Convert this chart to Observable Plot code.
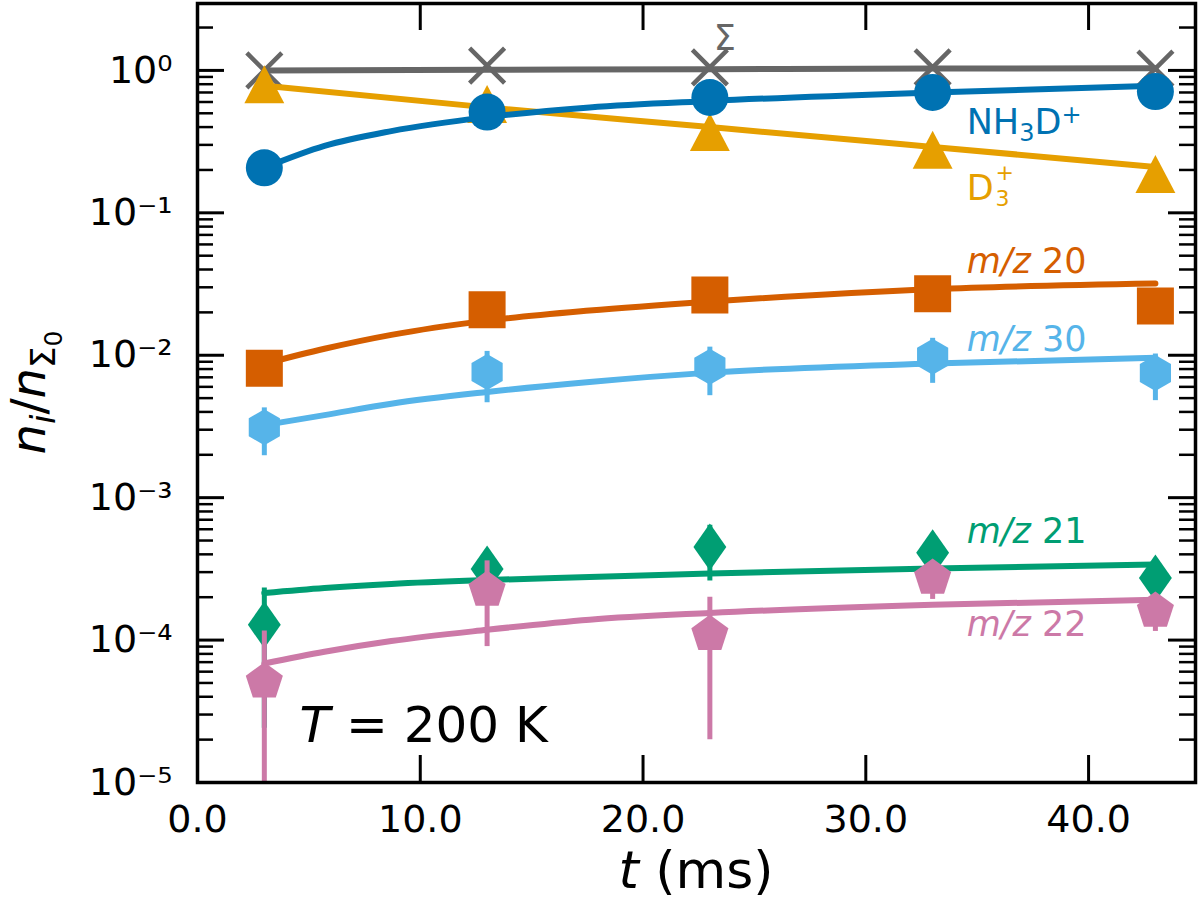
<!DOCTYPE html>
<html><head><meta charset="utf-8">
<script src="https://cdn.jsdelivr.net/npm/d3@7"></script>
<script src="https://cdn.jsdelivr.net/npm/@observablehq/plot@0.6"></script>
<style>body{margin:0;background:#fff} svg{display:block}</style>
</head><body><div id="chart"></div>
<script>
// ---- data ----
const T = [3, 13, 23, 33, 43];
const sigmaPts = [1.00, 1.08, 1.05, 1.05, 1.03];
const d3pPts   = [0.80, 0.58, 0.37, 0.277, 0.187];
const nh3dPts  = [0.207, 0.51, 0.645, 0.70, 0.71];
const mz20Pts  = [0.0081, 0.0209, 0.0265, 0.027, 0.0222];
const mz30Pts  = [0.00312, 0.00764, 0.0083, 0.00975, 0.0075];
const mz30Err  = [0.00115, 0.0030, 0.0031, 0.0034, 0.0027];
const mz21Pts  = [1.28e-4, 3.15e-4, 4.5e-4, 4.1e-4, 2.73e-4];
const mz21Err  = [1.04e-4, 0.6e-4, 1.9e-4, 0.6e-4, 0.5e-4];
const mz22Pts  = [5.1e-5, 2.25e-4, 1.1e-4, 2.73e-4, 1.6e-4];
const mz22Err  = [6.5e-5, 1.35e-4, 0.9e-4, 0.8e-4, 0.45e-4];

// fitted curves
const sigmaFit = [1.00, 1.01, 1.02, 1.03, 1.035];          // at T
const d3pFit   = [0.78, 0.55, 0.40, 0.29, 0.21];           // at T
const fitT     = [3, 5.7, 8.7, 13, 17.6, 23, 33, 43];
const nh3dFit  = [0.207, 0.295, 0.375, 0.47, 0.55, 0.61, 0.70, 0.78];
const mz20Fit  = [0.0087, 0.0111, 0.0139, 0.0175, 0.0206, 0.0238, 0.0291, 0.0319];
const mz30Fit  = [0.00323, 0.0038, 0.00457, 0.00552, 0.00649, 0.00755, 0.00874, 0.0096];
const mz21Fit  = [2.14e-4, 2.32e-4, 2.48e-4, 2.64e-4, 2.77e-4, 2.94e-4, 3.18e-4, 3.40e-4];
const mz22Fit  = [6.85e-5, 8.28e-5, 9.84e-5, 1.18e-4, 1.39e-4, 1.55e-4, 1.77e-4, 1.92e-4];

// axes
const xTicks = [0, 10, 20, 30, 40];
const xTickLabels = ["0.0", "10.0", "20.0", "30.0", "40.0"];
const yTicks = [1e-5, 1e-4, 1e-3, 1e-2, 1e-1, 1e0];
const yTickLabels = ["10\u207B\u2075", "10\u207B\u2074", "10\u207B\u00B3", "10\u207B\u00B2", "10\u207B\u00B9", "10\u2070"];
const yMinor = [-5, -4, -3, -2, -1, 0].flatMap(e => [2,3,4,5,6,7,8,9].map(m => m * Math.pow(10, e))).filter(v => v < 2.95);

// annotation anchors (data units: t at text start, value at text baseline)
const labelT = {sigma: 23.2, species: 34.55, temp: 4.6};
const labelV = {sigma: 1.38, nh3d: 0.355, d3p: 0.122, mz20: 0.0375, mz30: 0.01063, mz21: 4.77e-4, mz22: 1.06e-4, temp: 1.91e-5};

// ---- styling ----
const C = {sigma: "#666666", d3p: "#E69F00", nh3d: "#0072B2", mz20: "#D55E00", mz30: "#56B4E9", mz21: "#009E73", mz22: "#CC79A7"};
const W = 1200, H = 911, mL = 197, mR = 5, mT = 3, mB = 129;
const innerW = W - mL - mR, innerH = H - mT - mB;
const majorLen = 27, minorLen = 16;
const LW = 6;

const rows = (ts, vs, es) => ts.map((t, i) => ({t, v: vs[i], e: es ? es[i] : 0}));

const sym = fn => ({draw(ctx, size) { fn(ctx, Math.sqrt(size / Math.PI)); }});
const poly = (n, start) => sym((c, r) => {
  for (let k = 0; k < n; k++) {
    const a = start + k * 2 * Math.PI / n;
    const x = r * Math.cos(a), y = r * Math.sin(a);
    if (k) c.lineTo(x, y); else c.moveTo(x, y);
  }
  c.closePath();
});
const hexagon = poly(6, -Math.PI / 2);
const pentagon = poly(5, -Math.PI / 2);
const thinDiamond = sym((c, r) => { c.moveTo(0, -r); c.lineTo(0.7 * r, 0); c.lineTo(0, r); c.lineTo(-0.7 * r, 0); c.closePath(); });
const triUp = sym((c, r) => { c.moveTo(0, -r); c.lineTo(1.05 * r, r); c.lineTo(-1.05 * r, r); c.closePath(); });
const squareSym = sym((c, r) => { c.moveTo(-r, -r); c.lineTo(r, -r); c.lineTo(r, r); c.lineTo(-r, r); c.closePath(); });
const crossSym = sym((c, r) => { c.moveTo(-r, -r); c.lineTo(r, r); c.moveTo(r, -r); c.lineTo(-r, r); });

function seriesMarks(fitData, pts, color, symbol, r, withErr) {
  const marks = [Plot.line(fitData, {x: "t", y: "v", stroke: color, strokeWidth: LW, curve: "monotone-x"})];
  if (withErr) marks.push(Plot.ruleX(pts, {x: "t", y1: d => Math.max(d.v - d.e, 1e-7), y2: d => d.v + d.e, stroke: color, strokeWidth: 5, clip: true}));
  if (symbol === crossSym) marks.push(Plot.dot(pts, {x: "t", y: "v", symbol, r, stroke: color, strokeWidth: 4.5, fill: "none"}));
  else marks.push(Plot.dot(pts, {x: "t", y: "v", symbol, r, fill: color, stroke: "none"}));
  return marks;
}

const svg = Plot.plot({
  width: W, height: H,
  marginLeft: mL, marginRight: mR, marginTop: mT, marginBottom: mB,
  style: {fontFamily: "DejaVu Sans", fontSize: "38px", color: "black", background: "white"},
  x: {domain: [0, 44.8], ticks: xTicks, tickSize: 0, tickPadding: 23, tickFormat: d => xTickLabels[xTicks.indexOf(d)], label: null},
  y: {type: "log", domain: [1e-5, 2.95], ticks: yTicks, tickSize: 0, tickPadding: 25, tickFormat: d => yTickLabels[yTicks.indexOf(d)], label: null},
  marks: [
    ...seriesMarks(rows(T, sigmaFit), rows(T, sigmaPts), C.sigma, crossSym, 17.5, false),
    ...seriesMarks(rows(T, d3pFit), rows(T, d3pPts), C.d3p, triUp, 19, false),
    ...seriesMarks(rows(fitT, nh3dFit), rows(T, nh3dPts), C.nh3d, undefined, 18.5, false),
    ...seriesMarks(rows(fitT, mz20Fit), rows(T, mz20Pts), C.mz20, squareSym, 18.5, false),
    ...seriesMarks(rows(fitT, mz30Fit), rows(T, mz30Pts, mz30Err), C.mz30, hexagon, 18, true),
    ...seriesMarks(rows(fitT, mz21Fit), rows(T, mz21Pts, mz21Err), C.mz21, thinDiamond, 23.5, true),
    ...seriesMarks(rows(fitT, mz22Fit), rows(T, mz22Pts, mz22Err), C.mz22, pentagon, 19.5, true),
    // inward ticks on all four sides
    Plot.tickY(yTicks, {y: d => d, insetRight: innerW - majorLen, strokeWidth: 3}),
    Plot.tickY(yTicks, {y: d => d, insetLeft: innerW - majorLen, strokeWidth: 3}),
    Plot.tickY(yMinor, {y: d => d, insetRight: innerW - minorLen, strokeWidth: 2.5}),
    Plot.tickY(yMinor, {y: d => d, insetLeft: innerW - minorLen, strokeWidth: 2.5}),
    Plot.tickX(xTicks, {x: d => d, insetTop: innerH - majorLen, strokeWidth: 3}),
    Plot.tickX(xTicks, {x: d => d, insetBottom: innerH - majorLen, strokeWidth: 3}),
    Plot.frame({stroke: "black", strokeWidth: 3.5})
  ]
});
document.getElementById("chart").append(svg);

// scales from the plot
const xs = svg.scale("x"), ys = svg.scale("y");
const fx = xs.apply ? v => xs.apply(v) : d3.scaleLinear(xs.domain, xs.range);
const fy = ys.apply ? v => ys.apply(v) : d3.scaleLog(ys.domain, ys.range);

const g = d3.select(svg).append("g").attr("font-family", "DejaVu Sans").attr("text-anchor", "start");
function addText(x, y, parts, size, color, attrs = {}) {
  const t = g.append("text").attr("x", x).attr("y", y).attr("font-size", size).attr("fill", color);
  for (const [k, v] of Object.entries(attrs)) t.attr(k, v);
  for (const p of parts) {
    const s = t.append("tspan").text(p.text);
    if (p.italic) s.attr("font-style", "italic");
    if (p.dy) s.attr("dy", p.dy);
    if (p.size) s.attr("font-size", p.size);
  }
  return t;
}
const FS = 35, SS = 24, SS2 = 22;
const lx = fx(labelT.species);
addText(fx(labelT.sigma), fy(labelV.sigma), [{text: "\u03A3"}], FS, C.sigma);
addText(lx, fy(labelV.nh3d), [{text: "NH"}, {text: "3", size: SS, dy: 7}, {text: "D", dy: -7}, {text: "+", size: SS, dy: -11}], FS, C.nh3d);
const dT = addText(lx, fy(labelV.d3p), [{text: "D"}], FS, C.d3p);
const dw = dT.node().getComputedTextLength();
addText(lx + dw + 2, fy(labelV.d3p) - 20, [{text: "+"}], SS2, C.d3p);
addText(lx + dw + 2, fy(labelV.d3p) + 6, [{text: "3"}], SS2, C.d3p);
addText(lx, fy(labelV.mz20), [{text: "m/z", italic: true}, {text: " 20"}], FS, C.mz20);
addText(lx, fy(labelV.mz30), [{text: "m/z", italic: true}, {text: " 30"}], FS, C.mz30);
addText(lx, fy(labelV.mz21), [{text: "m/z", italic: true}, {text: " 21"}], FS, C.mz21);
addText(lx, fy(labelV.mz22), [{text: "m/z", italic: true}, {text: " 22"}], FS, C.mz22);
addText(fx(labelT.temp), fy(labelV.temp), [{text: "T", italic: true}, {text: " = 200 K"}], 50, "black");

// axis titles
addText(0, 0, [{text: "t", italic: true}, {text: " (ms)"}], 52, "black",
  {x: mL + innerW / 2, y: 888, "text-anchor": "middle"});
addText(0, 0, [{text: "n", italic: true}, {text: "i", italic: true, size: 34, dy: 10}, {text: "/", dy: -10},
  {text: "n", italic: true}, {text: "\u03A3", size: 34, dy: 10}, {text: "0", size: 25, dy: 7}], 48, "black",
  {x: null, y: null, transform: `translate(45,${mT + innerH / 2}) rotate(-90)`, "text-anchor": "middle"});
</script>
</body></html>
